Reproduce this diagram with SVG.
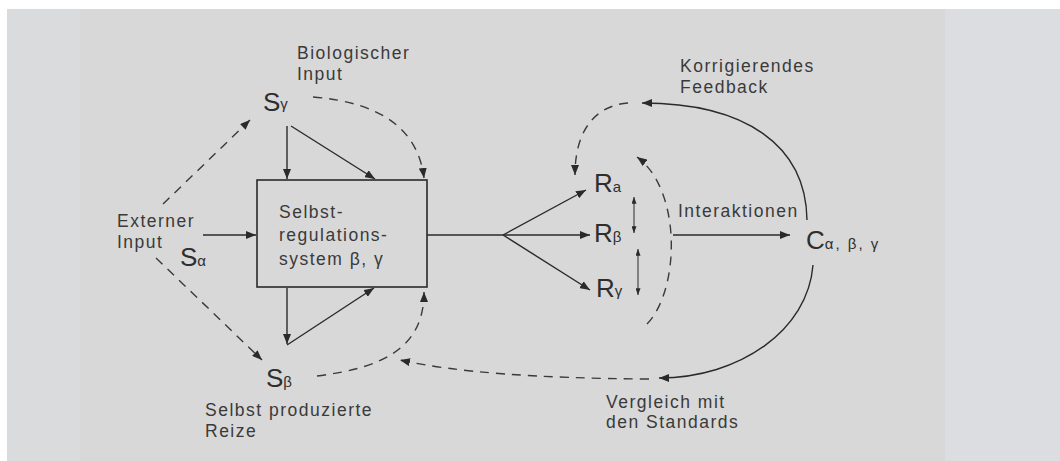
<svg xmlns="http://www.w3.org/2000/svg" width="1060" height="461" viewBox="0 0 1060 461">
<defs>
<style>
.lbl{font-family:"Liberation Sans",Arial,sans-serif;font-size:17.5px;letter-spacing:1.5px;fill:#3a3a3a}
.big{font-family:"Liberation Sans",Arial,sans-serif;font-size:26px;fill:#2e2e2e}
.sub{font-family:"Liberation Sans",Arial,sans-serif;font-size:15px;fill:#2e2e2e}
.ln{fill:none;stroke:#2a2a2a;stroke-width:1.4}
.ds{fill:none;stroke:#3a3a3a;stroke-width:1.4;stroke-dasharray:9 7}
.th{fill:none;stroke:#2a2a2a;stroke-width:1}
</style>
<marker id="ah" viewBox="0 0 10 8" refX="10" refY="4" markerWidth="10" markerHeight="8" markerUnits="userSpaceOnUse" orient="auto">
<path d="M0,0 L10,4 L0,8 Z" fill="#2a2a2a"/>
</marker>
<marker id="as" viewBox="0 0 8 6" refX="8" refY="3" markerWidth="7" markerHeight="5" markerUnits="userSpaceOnUse" orient="auto">
<path d="M0,0 L8,3 L0,6 Z" fill="#2a2a2a"/>
</marker>
<marker id="ass" viewBox="0 0 8 6" refX="0" refY="3" markerWidth="7" markerHeight="5" markerUnits="userSpaceOnUse" orient="auto">
<path d="M8,0 L0,3 L8,6 Z" fill="#2a2a2a"/>
</marker>
</defs>
<rect width="1060" height="461" fill="#ffffff"/>
<rect x="7" y="9" width="1053" height="452" fill="#dadbdd"/>
<rect x="80" y="9" width="865" height="452" fill="#d8d8d8"/>
<rect x="945" y="9" width="115" height="452" fill="#dcdde0"/>

<g id="connectors">
<path class="ln" d="M203,235 L256,235" marker-end="url(#ah)"/>
<path class="ln" d="M287,126 L287,179" marker-end="url(#ah)"/>
<path class="ln" d="M291,126 L375,179" marker-end="url(#ah)"/>
<path class="ln" d="M287,288 L287,344" marker-end="url(#ah)"/>
<path class="ln" d="M287,345 L374,288" marker-end="url(#ah)"/>
<path class="ds" d="M163,204 L250,120" marker-end="url(#ah)"/>
<path class="ds" d="M156,258 L262,360" marker-end="url(#ah)"/>
<path class="ds" d="M313,97 Q415,105 424,178" marker-end="url(#ah)"/>
<path class="ds" d="M317,376 C380,368 424,350 424,292" marker-end="url(#ah)"/>
<path class="ds" d="M649,379 Q480,378 400,360" marker-end="url(#ah)"/>
<path class="ln" d="M427,235 L503,235"/>
<path class="ln" d="M503,235 L586,190" marker-end="url(#ah)"/>
<path class="ln" d="M503,235 L590,235" marker-end="url(#ah)"/>
<path class="ln" d="M503,235 L590,290" marker-end="url(#ah)"/>
<path class="th" d="M634,197 L634,233" marker-start="url(#ass)" marker-end="url(#as)"/>
<path class="th" d="M638,249 L638,295" marker-start="url(#ass)" marker-end="url(#as)"/>
<path class="ds" d="M647,324 C680,290 682,190 637,157" marker-end="url(#ah)"/>
<path class="ln" d="M673,235 L790,235" marker-end="url(#ah)"/>
<path class="ln" d="M807,220 C806,145 745,103 642,103" marker-end="url(#ah)"/>
<path class="ds" d="M628,103 C600,105 575,125 575,175" marker-end="url(#ah)"/>
<path class="ln" d="M813,265 C808,330 740,378 659,378" marker-end="url(#ah)"/>
</g>

<g id="box">
<rect x="257" y="180" width="170" height="107" fill="none" stroke="#2a2a2a" stroke-width="1.6"/>
<text class="lbl" x="279" y="218">Selbst-</text>
<text class="lbl" x="279" y="241">regulations-</text>
<text class="lbl" x="279" y="265">system β, γ</text>
</g>

<g id="s-gamma">
<text class="big" x="263" y="111">S<tspan class="sub" dy="-2">γ</tspan></text>
<text class="lbl" x="297" y="59">Biologischer</text>
<text class="lbl" x="297" y="80">Input</text>
</g>

<g id="s-alpha">
<text class="big" x="180" y="266">S<tspan class="sub">α</tspan></text>
<text class="lbl" x="117" y="227">Externer</text>
<text class="lbl" x="117" y="248">Input</text>
</g>

<g id="s-beta">
<text class="big" x="266" y="387">S<tspan class="sub">β</tspan></text>
<text class="lbl" x="205" y="416">Selbst produzierte</text>
<text class="lbl" x="205" y="437">Reize</text>
</g>

<g id="r-alpha"><text class="big" x="594" y="192">R<tspan class="sub">a</tspan></text></g>
<g id="r-beta"><text class="big" x="594" y="242">R<tspan class="sub">β</tspan></text></g>
<g id="r-gamma"><text class="big" x="596" y="297">R<tspan class="sub" dy="-1">γ</tspan></text></g>

<g id="interaktionen"><text class="lbl" x="678" y="217">Interaktionen</text></g>

<g id="c-node">
<text class="big" x="806" y="249">C<tspan class="sub" letter-spacing="2">α, β, γ</tspan></text>
</g>

<g id="feedback"><text class="lbl" x="680" y="72">Korrigierendes</text><text class="lbl" x="680" y="93">Feedback</text></g>
<g id="vergleich"><text class="lbl" x="606" y="408">Vergleich mit</text><text class="lbl" x="606" y="428">den Standards</text></g>
</svg>
